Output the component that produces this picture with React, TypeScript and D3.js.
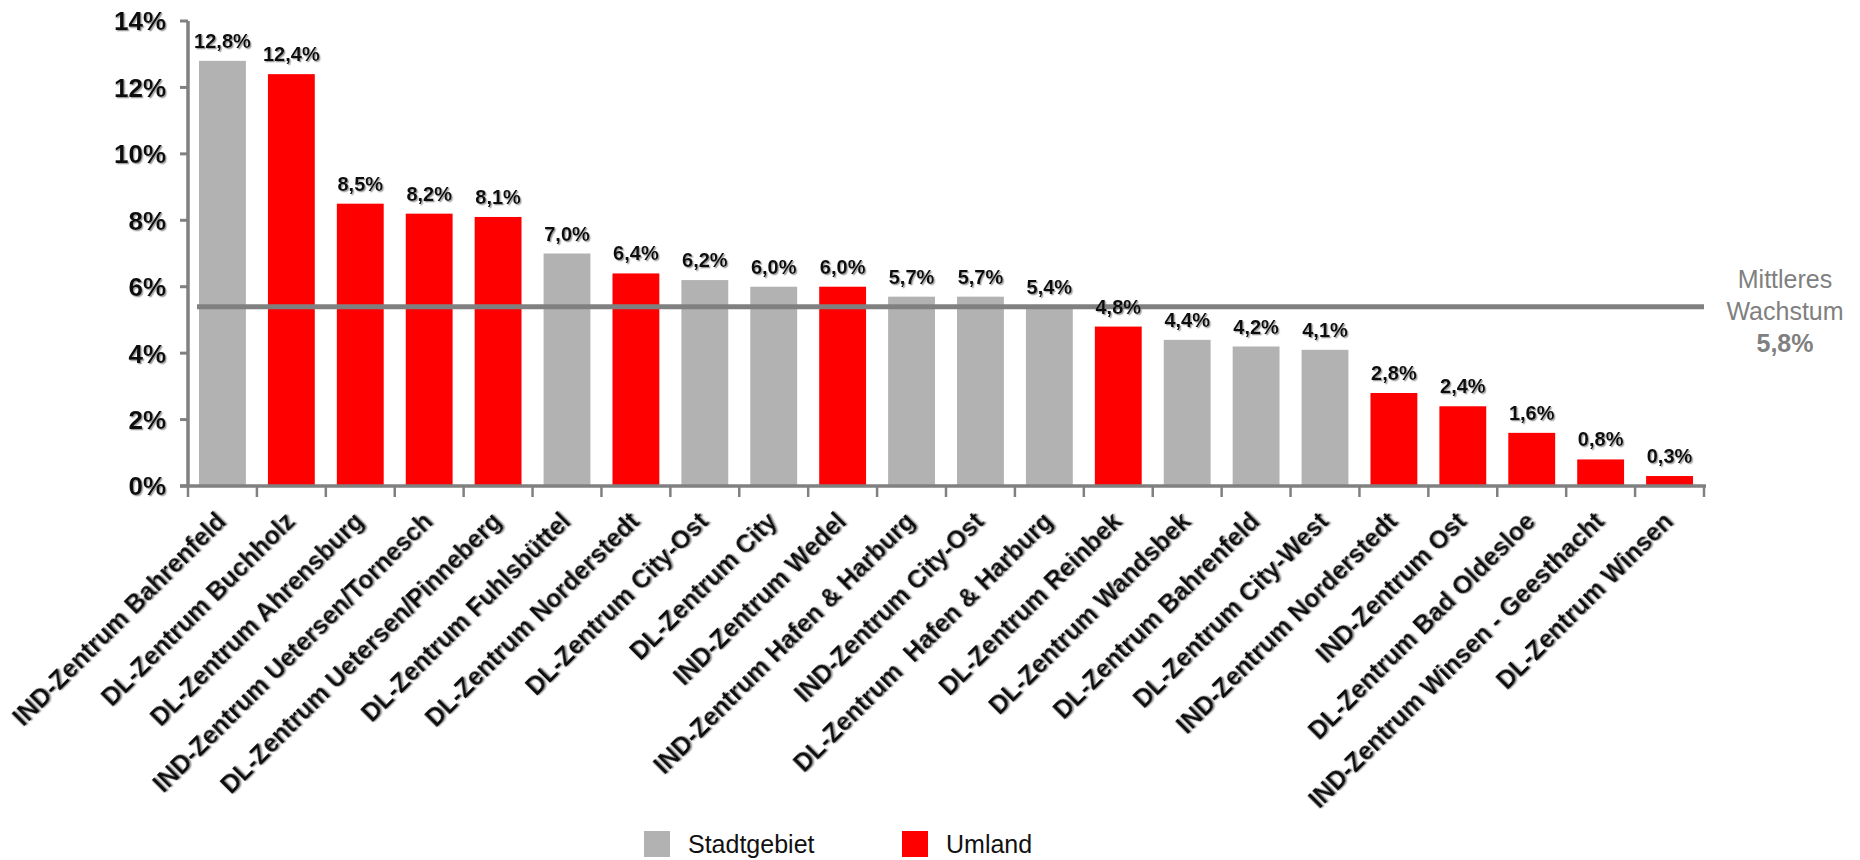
import React, { useEffect } from "react";
import * as d3 from "d3";

const categories = [
  "IND-Zentrum Bahrenfeld",
  "DL-Zentrum Buchholz",
  "DL-Zentrum Ahrensburg",
  "IND-Zentrum Uetersen/Tornesch",
  "DL-Zentrum Uetersen/Pinneberg",
  "DL-Zentrum Fuhlsbüttel",
  "DL-Zentrum Norderstedt",
  "DL-Zentrum City-Ost",
  "DL-Zentrum City",
  "IND-Zentrum Wedel",
  "IND-Zentrum Hafen & Harburg",
  "IND-Zentrum City-Ost",
  "DL-Zentrum  Hafen & Harburg",
  "DL-Zentrum Reinbek",
  "DL-Zentrum Wandsbek",
  "DL-Zentrum Bahrenfeld",
  "DL-Zentrum City-West",
  "IND-Zentrum Norderstedt",
  "IND-Zentrum Ost",
  "DL-Zentrum Bad Oldesloe",
  "IND-Zentrum Winsen - Geesthacht",
  "DL-Zentrum Winsen",
];

const values = [12.8, 12.4, 8.5, 8.2, 8.1, 7.0, 6.4, 6.2, 6.0, 6.0, 5.7, 5.7, 5.4, 4.8, 4.4, 4.2, 4.1, 2.8, 2.4, 1.6, 0.8, 0.3];

// S = Stadtgebiet, U = Umland
const regions = ["S", "U", "U", "U", "U", "S", "U", "S", "S", "U", "S", "S", "S", "U", "S", "S", "S", "U", "U", "U", "U", "U"];

const yTicks = [0, 2, 4, 6, 8, 10, 12, 14];
const meanLineValue = 5.4;
const meanLabel = ["Mittleres", "Wachstum", "5,8%"];
const legendItems = [
  { key: "S", label: "Stadtgebiet" },
  { key: "U", label: "Umland" },
];

const colors = { S: "#b2b2b2", U: "#ff0000" };
const axisColor = "#808080";
const font = "'Liberation Sans', Arial, sans-serif";

const App = () => {
  useEffect(() => {
    document.body.style.margin = "0";
  }, []);

  const width = 1860;
  const height = 860;
  const left = 188;
  const right = 1704;
  const top = 21;
  const bottom = 486;

  const x = d3.scaleBand().domain(categories).range([left, right]).paddingInner(0.32).paddingOuter(0.16);
  const step = (right - left) / categories.length;
  const y = d3.scaleLinear().domain([0, 14]).range([bottom, top]);
  const fmt = (v: number) => d3.format(".1f")(v).replace(".", ",") + "%";

  return (
    <svg width={width} height={height} style={{ display: "block", fontFamily: font }}>
      <defs>
        <filter id="shadow" x="-5%" y="-20%" width="110%" height="140%">
          <feDropShadow dx="1.3" dy="1.3" stdDeviation="0.7" floodColor="#777" floodOpacity="0.7" />
        </filter>
      </defs>

      {/* bars */}
      {categories.map((c, i) => (
        <rect
          key={c}
          x={x(c)}
          y={y(values[i])}
          width={x.bandwidth()}
          height={y(0) - y(values[i])}
          fill={colors[regions[i]]}
        />
      ))}

      {/* mean line */}
      <line x1={left + 9} x2={right} y1={y(meanLineValue)} y2={y(meanLineValue)} stroke={axisColor} strokeWidth={5} />

      {/* value labels */}
      {categories.map((c, i) => (
        <text
          key={c}
          x={x(c)! + x.bandwidth() / 2}
          y={y(values[i]) - 13}
          textAnchor="middle"
          fontSize={20}
          fontWeight="bold"
          fill="#111"
          filter="url(#shadow)"
        >
          {fmt(values[i])}
        </text>
      ))}

      {/* y axis */}
      <line x1={left} x2={left} y1={y(14)} y2={bottom} stroke={axisColor} strokeWidth={3.5} />
      {yTicks.map((t) => (
        <g key={t}>
          <line x1={left - 8} x2={left} y1={y(t)} y2={y(t)} stroke={axisColor} strokeWidth={3} />
          <text
            x={left - 22}
            y={y(t)}
            dy="0.36em"
            textAnchor="end"
            fontSize={26}
            fontWeight="bold"
            fill="#111"
            filter="url(#shadow)"
          >
            {t}%
          </text>
        </g>
      ))}

      {/* x axis */}
      <line x1={left - 8} x2={right + 2} y1={bottom} y2={bottom} stroke={axisColor} strokeWidth={3.5} />
      {d3.range(categories.length + 1).map((i) => (
        <line key={i} x1={left + i * step} x2={left + i * step} y1={bottom} y2={bottom + 11} stroke={axisColor} strokeWidth={2.5} />
      ))}
      {categories.map((c) => {
        const cx = x(c)! + x.bandwidth() / 2 + 5;
        const cy = bottom + 37;
        return (
          <text
            key={c}
            transform={`translate(${cx},${cy}) rotate(-45)`}
            textAnchor="end"
            fontSize={25}
            fontWeight="bold"
            fill="#111"
            filter="url(#shadow)"
            style={{ whiteSpace: "pre" }}
          >
            {c}
          </text>
        );
      })}

      {/* mean annotation */}
      {meanLabel.map((t, i) => (
        <text
          key={t}
          x={1785}
          y={288 + i * 32}
          textAnchor="middle"
          fontSize={25}
          fontWeight={i === 2 ? "bold" : "normal"}
          fill={axisColor}
        >
          {t}
        </text>
      ))}

      {/* legend */}
      {legendItems.map((it, i) => (
        <g key={it.key} transform={`translate(${644 + i * 258},831)`}>
          <rect width={26} height={26} fill={colors[it.key]} />
          <text x={44} y={13} dy="0.36em" fontSize={25} fill="#111">
            {it.label}
          </text>
        </g>
      ))}
    </svg>
  );
};

export default App;
